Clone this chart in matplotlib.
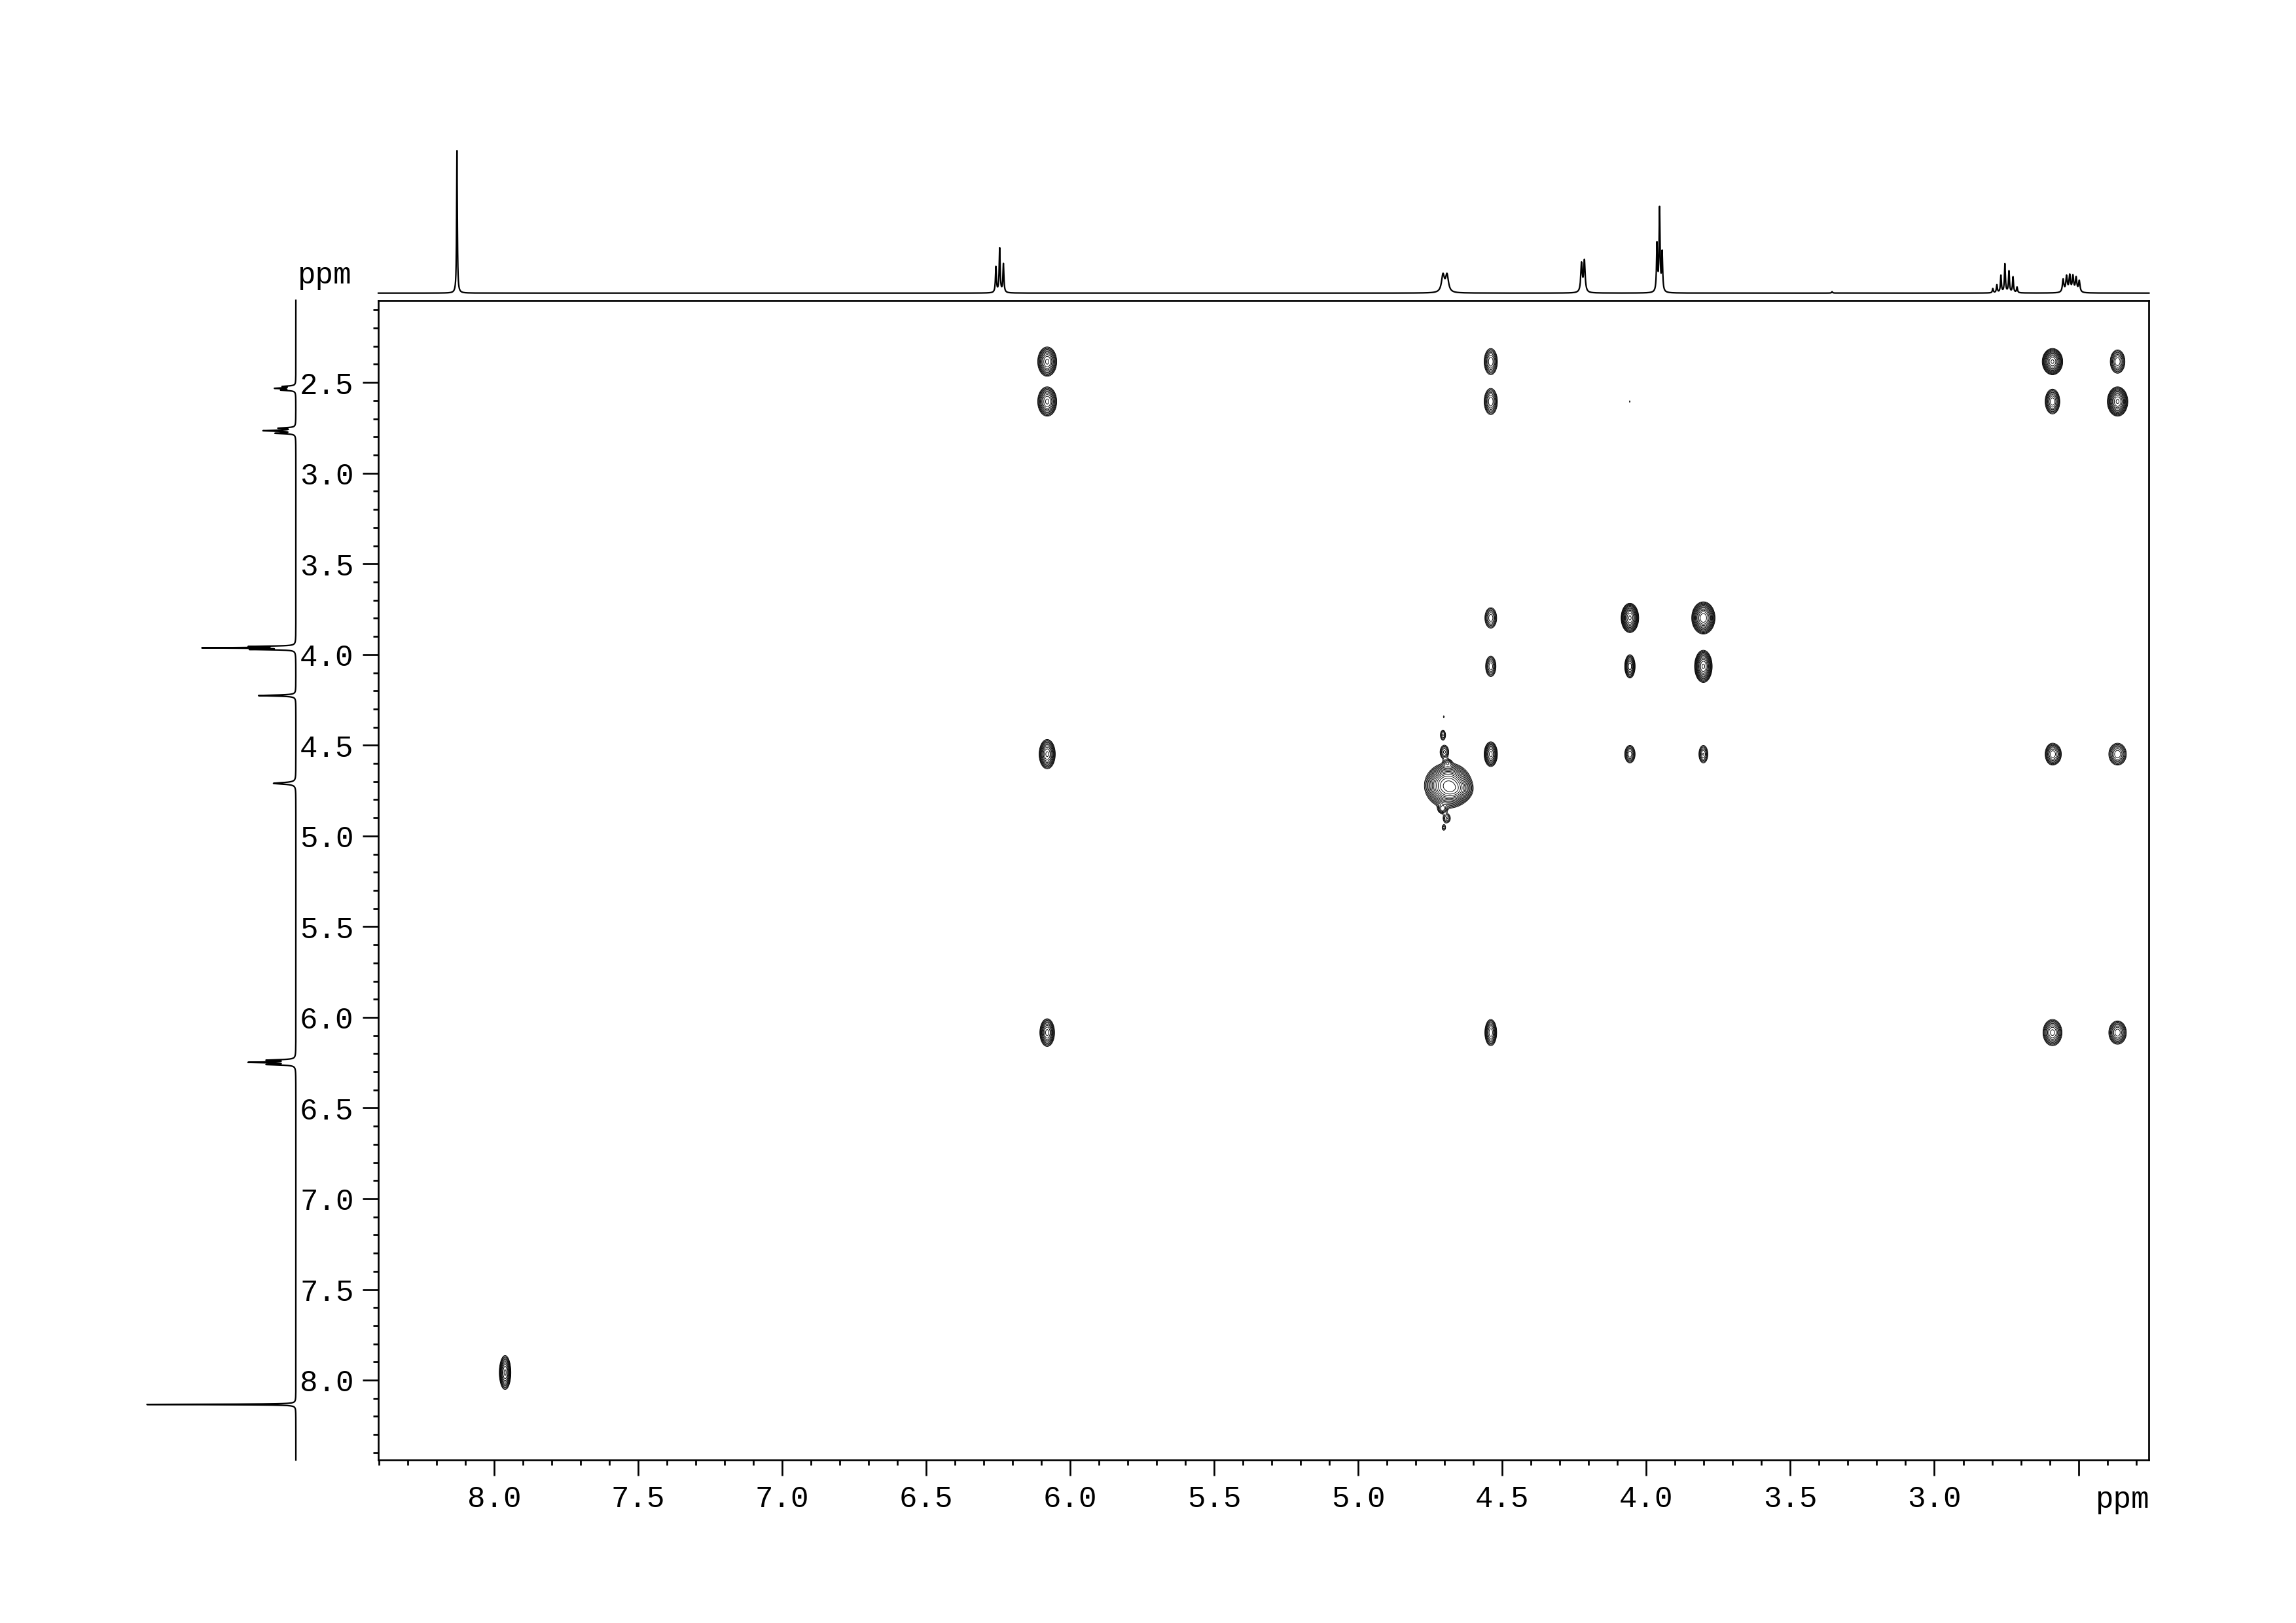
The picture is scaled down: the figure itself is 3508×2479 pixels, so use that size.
import matplotlib
matplotlib.use("Agg")
import matplotlib.pyplot as plt
import numpy as np
from matplotlib.ticker import MultipleLocator, FixedLocator

# --- 1D projection on top (F2): shift ppm, height, half width ---
top_shift = [8.129, 6.258, 6.245, 6.232, 4.706, 4.692, 4.225, 4.215,
             3.963, 3.954, 3.945, 2.797, 2.783, 2.769, 2.755, 2.741,
             2.727, 2.713, 2.553, 2.541, 2.530, 2.519, 2.508, 2.497, 3.355]
top_height = [1.0, 0.18, 0.31, 0.20, 0.12, 0.12, 0.20, 0.22,
              0.33, 0.58, 0.27, 0.03, 0.055, 0.12, 0.2, 0.15,
              0.11, 0.04, 0.09, 0.11, 0.115, 0.11, 0.10, 0.08, 0.01]
top_hwhm = [0.0015, 0.002, 0.002, 0.002, 0.006, 0.006, 0.003, 0.003,
            0.002, 0.002, 0.002, 0.002, 0.002, 0.002, 0.002, 0.002,
            0.002, 0.002, 0.003, 0.003, 0.003, 0.003, 0.003, 0.003, 0.002]

# --- 1D projection on the left (F1) ---
left_shift = [8.134, 6.260, 6.248, 6.236, 4.710, 4.226, 3.972, 3.963,
              3.955, 2.780, 2.766, 2.752, 2.542, 2.532, 2.522]
left_height = [1.0, 0.18, 0.30, 0.18, 0.15, 0.25, 0.28, 0.60,
               0.28, 0.13, 0.21, 0.11, 0.09, 0.13, 0.08]
left_hwhm = [0.0015, 0.003, 0.003, 0.003, 0.005, 0.003, 0.002, 0.002,
             0.002, 0.003, 0.003, 0.003, 0.003, 0.003, 0.003]

# --- 2D cross peaks: F2 ppm, F1 ppm, outer contour width/height (ppm), intensity ---
peak_x = [6.080, 4.540, 2.590, 2.364,
          6.080, 4.540, 4.057, 2.590, 2.364,
          4.540, 4.057, 3.802,
          4.540, 4.057, 3.802,
          6.080, 4.540, 4.057, 3.802, 2.590, 2.572, 2.364,
          6.080, 4.540, 2.590, 2.364,
          7.962,
          4.688, 4.660,
          4.703, 4.706, 4.701, 4.690, 4.708, 4.693, 4.703]
peak_y = [2.385, 2.385, 2.385, 2.385,
          2.605, 2.605, 2.605, 2.605, 2.605,
          3.798, 3.798, 3.798,
          4.065, 4.065, 4.065,
          4.549, 4.549, 4.549, 4.549, 4.549, 4.549, 4.549,
          6.084, 6.084, 6.084, 6.084,
          7.958,
          4.722, 4.745,
          4.343, 4.444, 4.537, 4.596, 4.851, 4.903, 4.954]
peak_w = [0.066, 0.046, 0.071, 0.051,
          0.066, 0.046, 0.003, 0.051, 0.071,
          0.041, 0.061, 0.081,
          0.036, 0.036, 0.061,
          0.056, 0.046, 0.036, 0.031, 0.051, 0.020, 0.061,
          0.051, 0.041, 0.066, 0.061,
          0.040,
          0.165, 0.100,
          0.004, 0.018, 0.030, 0.025, 0.030, 0.025, 0.012]
peak_h = [0.162, 0.145, 0.145, 0.129,
          0.162, 0.145, 0.012, 0.137, 0.162,
          0.113, 0.162, 0.178,
          0.113, 0.129, 0.178,
          0.162, 0.137, 0.097, 0.097, 0.121, 0.060, 0.121,
          0.153, 0.145, 0.145, 0.129,
          0.188,
          0.250, 0.120,
          0.012, 0.055, 0.075, 0.035, 0.050, 0.050, 0.030]
peak_amp = [15, 8, 25, 8,
            15, 8, 1.2, 10, 25,
            6, 25, 30,
            6, 10, 25,
            15, 12, 6, 5, 10, 2, 8,
            12, 10, 12, 10,
            15,
            45, 10,
            1.15, 3, 4, 3, 4, 3, 2]

x_major = [3.0, 3.5, 4.0, 4.5, 5.0, 5.5, 6.0, 6.5, 7.0, 7.5, 8.0]
y_major = [2.5, 3.0, 3.5, 4.0, 4.5, 5.0, 5.5, 6.0, 6.5, 7.0, 7.5, 8.0]

X_LIM = (8.402, 2.255)
Y_LIM = (8.440, 2.047)
FONT = "Liberation Mono"


def lorentz_sum(grid, shifts, heights, widths):
    out = np.zeros_like(grid)
    for s, h, g in zip(shifts, heights, widths):
        out += h / (1.0 + ((grid - s) / g) ** 2)
    return out


fig = plt.figure(figsize=(3508.4 / 300, 2479.4 / 300), dpi=300)

# main 2D panel
ax = fig.add_axes([0.16477, 0.10044, 0.77109, 0.7144])
gx = np.linspace(X_LIM[1], X_LIM[0], 2200)
gy = np.linspace(Y_LIM[1], Y_LIM[0], 1800)
Z = np.zeros((gy.size, gx.size))
base = 1.0
for px, py, w, h, a in zip(peak_x, peak_y, peak_w, peak_h, peak_amp):
    k = np.sqrt(2 * np.log(a / base))
    sx = (w / 2) / k
    sy = (h / 2) / k
    Z += a * np.outer(np.exp(-(gy - py) ** 2 / (2 * sy ** 2)),
                      np.exp(-(gx - px) ** 2 / (2 * sx ** 2)))
levels = base * 1.3 ** np.arange(0, 16)
ax.contour(gx, gy, Z, levels=levels, colors="black", linewidths=0.22)

ax.set_xlim(*X_LIM)
ax.set_ylim(*Y_LIM)
ax.xaxis.set_major_locator(FixedLocator(x_major + [2.5]))
ax.xaxis.set_minor_locator(MultipleLocator(0.1))
ax.yaxis.set_major_locator(FixedLocator(y_major))
ax.yaxis.set_minor_locator(MultipleLocator(0.1))
ax.set_xticklabels([f"{v:.1f}" for v in x_major] + [""])
ax.set_yticklabels([f"{v:.1f}" for v in y_major])
ax.tick_params(which="major", direction="out", length=5.8, width=0.65,
               labelsize=11, pad=3.2)
ax.tick_params(which="minor", direction="out", length=1.9, width=0.65)
for lab in ax.get_xticklabels() + ax.get_yticklabels():
    lab.set_fontfamily(FONT)
for sp in ax.spines.values():
    sp.set_linewidth(0.65)

# top projection
ax_top = fig.add_axes([0.16477, 0.81928, 0.77109, 0.08794])
tx = np.linspace(X_LIM[1], X_LIM[0], 40000)
ax_top.plot(tx, lorentz_sum(tx, top_shift, top_height, top_hwhm),
            color="black", lw=0.55, clip_on=False)
ax_top.set_xlim(*X_LIM)
ax_top.set_ylim(0, 1.0)
ax_top.axis("off")

# left projection
ax_left = fig.add_axes([0.06385, 0.10044, 0.065, 0.7144])
ly = np.linspace(Y_LIM[1], Y_LIM[0], 40000)
ax_left.plot(lorentz_sum(ly, left_shift, left_height, left_hwhm), ly,
             color="black", lw=0.55, clip_on=False)
ax_left.set_xlim(1.0, 0)
ax_left.set_ylim(*Y_LIM)
ax_left.axis("off")

# axis unit labels
fig.text(0.9359, 0.0848, "ppm", ha="right", va="top", fontsize=11,
         family=FONT)
fig.text(0.1294, 0.8215, "ppm", ha="left", va="bottom", fontsize=11,
         family=FONT)

fig.savefig("out.png", dpi=300)
